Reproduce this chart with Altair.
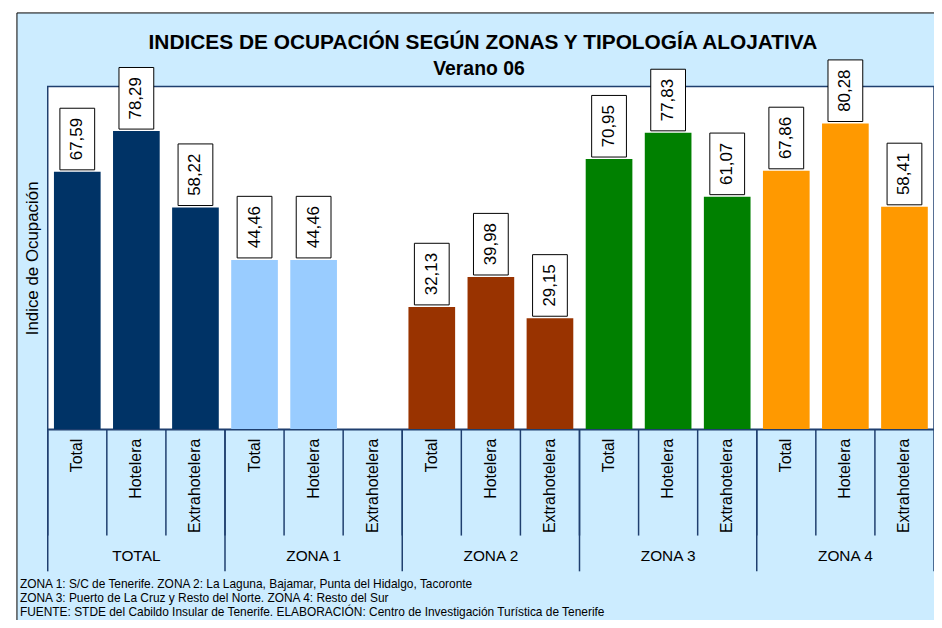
import altair as alt
import pandas as pd

zones = ["TOTAL", "ZONA 1", "ZONA 2", "ZONA 3", "ZONA 4"]
tipos = ["Total", "Hotelera", "Extrahotelera"]
values = {
    "TOTAL": [67.59, 78.29, 58.22],
    "ZONA 1": [44.46, 44.46, None],
    "ZONA 2": [32.13, 39.98, 29.15],
    "ZONA 3": [70.95, 77.83, 61.07],
    "ZONA 4": [67.86, 80.28, 58.41],
}
zone_colors = ["#003366", "#99CCFF", "#993300", "#008000", "#FF9900"]
footnotes = [
    "ZONA 1: S/C de Tenerife. ZONA 2: La Laguna, Bajamar, Punta del Hidalgo, Tacoronte",
    "ZONA 3: Puerto de La Cruz y Resto del Norte. ZONA 4: Resto del Sur",
    "FUENTE: STDE del Cabildo Insular de Tenerife. ELABORACIÓN: Centro de Investigación Turística de Tenerife",
]
title_text = "INDICES DE OCUPACIÓN SEGÚN ZONAS Y TIPOLOGÍA ALOJATIVA"
subtitle_text = "Verano 06"
y_title = "Indice de Ocupación"

W, H = 892, 345
STEP = W / 15
NAVY = "#1F3F6F"
FONT = "Liberation Sans"

rows = []
for z in zones:
    for t, v in zip(tipos, values[z]):
        rows.append({"zone": z, "tipo": t, "key": f"{z}|{t}", "v": v,
                     "lbl": (f"{v:.2f}".replace(".", ",") if v is not None else None)})
df = pd.DataFrame(rows)
keys = list(df["key"])
bars_df = df.dropna(subset=["v"])
zone_df = pd.DataFrame({"zone": zones,
                        "first": [f"{z}|Total" for z in zones],
                        "mid": [f"{z}|Hotelera" for z in zones]})

xscale = alt.Scale(domain=keys, paddingInner=0.21, paddingOuter=0.105)
yscale = alt.Scale(domain=[0, 90])

one = pd.DataFrame({"a": [0]})

panel = alt.Chart(one).mark_rect(fill="#CCECFF", stroke="black", strokeWidth=1).encode(
    x=alt.value(-31), x2=alt.value(W + 30), y=alt.value(-74), y2=alt.value(H + 260))
plotbg = alt.Chart(one).mark_rect(fill="white", stroke=NAVY, strokeWidth=1.5).encode(
    x=alt.value(0), x2=alt.value(W), y=alt.value(0), y2=alt.value(H))

bars = alt.Chart(bars_df).mark_bar().encode(
    x=alt.X("key:N", scale=xscale,
            axis=alt.Axis(title=None, labelAngle=270, labelFontSize=16, labelFont=FONT,
                          labelColor="black", ticks=False, domainColor=NAVY, domainWidth=1.5,
                          labelPadding=9, labelAlign="right", labelBaseline="middle",
                          labelLimit=300, zindex=1,
                          labelExpr="split(datum.label, '|')[1]")),
    y=alt.Y("v:Q", scale=yscale,
            axis=alt.Axis(title=y_title, labels=False, ticks=False, domain=False, grid=False,
                          titleFontSize=17, titleFont=FONT, titleFontWeight="normal",
                          titleColor="black", titlePadding=6, zindex=1)),
    color=alt.Color("zone:N", scale=alt.Scale(domain=zones, range=zone_colors), legend=None),
)

boxes = alt.Chart(bars_df).mark_bar(width=35, fill="white", stroke="black", strokeWidth=1,
                                    yOffset=-2, y2Offset=-64).encode(
    x=alt.X("key:N", scale=xscale),
    y=alt.Y("v:Q", scale=yscale),
    y2=alt.Y2("v"),
)

texts = alt.Chart(bars_df).mark_text(angle=270, dx=33, align="center", baseline="middle",
                                     fontSize=17, font=FONT, color="black").encode(
    x=alt.X("key:N", scale=xscale),
    y=alt.Y("v:Q", scale=yscale),
    text="lbl:N",
)

cat_rules = alt.Chart(df).mark_rule(color=NAVY, strokeWidth=1.5, xOffset=-STEP / 2).encode(
    x=alt.X("key:N", scale=xscale),
    y=alt.value(H), y2=alt.value(H + 107),
)

zone_rules = alt.Chart(zone_df).mark_rule(color=NAVY, strokeWidth=1.5, xOffset=-STEP / 2).encode(
    x=alt.X("first:N", scale=xscale),
    y=alt.value(H), y2=alt.value(H + 143),
)
end_rule = alt.Chart(one).mark_rule(color=NAVY, strokeWidth=1.5).encode(
    x=alt.value(W), y=alt.value(H), y2=alt.value(H + 143))

zone_text = alt.Chart(zone_df).mark_text(fontSize=15.5, font=FONT, color="black",
                                         baseline="middle").encode(
    x=alt.X("mid:N", scale=xscale),
    y=alt.value(H + 128),
    text="zone:N",
)

foot = alt.Chart(one).mark_text(align="left", baseline="middle", fontSize=12, font=FONT,
                                color="black", lineBreak="\n", lineHeight=14).encode(
    x=alt.value(-28), y=alt.value(H + 156),
    text=alt.value("\n".join(footnotes)),
)

title_mark = alt.Chart(one).mark_text(fontSize=21, font=FONT, fontWeight="bold",
                                      color="black", baseline="middle").encode(
    x=alt.value(W / 2 - 8), y=alt.value(-44), text=alt.value(title_text))
subtitle_mark = alt.Chart(one).mark_text(fontSize=19.5, font=FONT, fontWeight="bold",
                                         color="black", baseline="middle").encode(
    x=alt.value(W / 2 - 12), y=alt.value(-18), text=alt.value(subtitle_text))

chart = alt.layer(panel, plotbg, bars, boxes, texts, cat_rules, zone_rules, end_rule,
                  zone_text, foot, title_mark, subtitle_mark).properties(
    width=W, height=H,
    autosize=alt.AutoSizeParams(type="none"),
    padding={"left": 40, "top": 77, "right": 0, "bottom": 190},
    background="white",
).configure_view(stroke=None)

chart.save("out.html", embed_options={"renderer": "svg", "actions": False})
